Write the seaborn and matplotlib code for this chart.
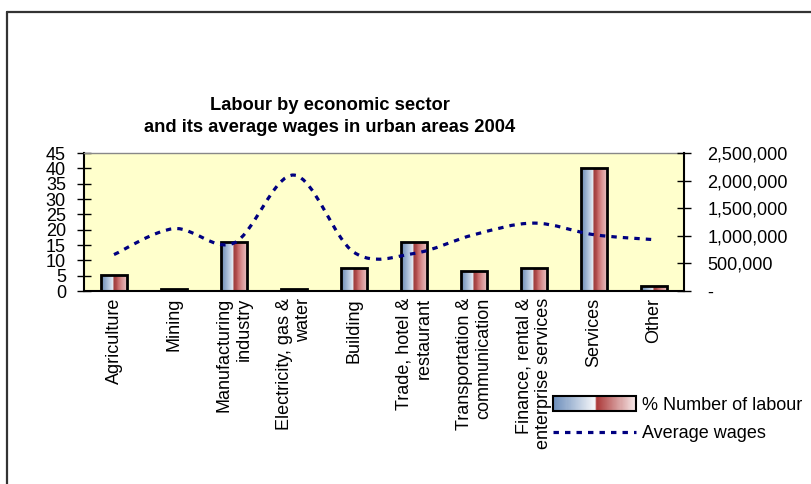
import numpy as np
import pandas as pd
import matplotlib
matplotlib.use("Agg")
import matplotlib.pyplot as plt
import seaborn as sns
from matplotlib.colors import LinearSegmentedColormap
from matplotlib.patches import Rectangle, Patch, PathPatch
from matplotlib.path import Path
from matplotlib.lines import Line2D
from matplotlib.legend_handler import HandlerBase

# ---- data ----
categories = ["Agriculture", "Mining", "Manufacturing\nindustry",
              "Electricity, gas &\nwater", "Building", "Trade, hotel &\nrestaurant",
              "Transportation &\ncommunication", "Finance, rental &\nenterprise services",
              "Services", "Other"]
labour_pct = [5.2, 0.8, 15.9, 0.8, 7.4, 16.0, 6.6, 7.4, 40.0, 1.5]
avg_wages = [660000, 1130000, 870000, 2100000, 700000, 680000, 1020000, 1230000, 1020000, 930000]
left_ticks = [0, 5, 10, 15, 20, 25, 30, 35, 40, 45]
right_ticks = [0, 500000, 1000000, 1500000, 2000000, 2500000]
right_labels = ["-", "500,000", "1,000,000", "1,500,000", "2,000,000", "2,500,000"]
title_lines = ["Labour by economic sector", "and its average wages in urban areas 2004"]
legend_labels = ["% Number of labour", "Average wages"]

sns.set_style("white")
plt.rcParams["font.family"] = ["Liberation Sans", "DejaVu Sans"]
plt.rcParams["text.color"] = "black"
plt.rcParams["xtick.color"] = "black"
plt.rcParams["ytick.color"] = "black"
plt.rcParams["xtick.labelcolor"] = "black"
plt.rcParams["ytick.labelcolor"] = "black"

W, H = 812, 484
fig = plt.figure(figsize=(W / 100, H / 100), dpi=100)
fig.patch.set_facecolor("white")

L, R, T, B = 84, 684, 153, 291
ax = fig.add_axes([L / W, (H - B) / H, (R - L) / W, (B - T) / H])
ax.set_facecolor("#FFFFCC")

df = pd.DataFrame({"cat": categories, "pct": labour_pct})
sns.barplot(data=df, x="cat", y="pct", ax=ax, width=0.42, color="white",
            edgecolor="black", linewidth=2, zorder=3)

bar_cmap = LinearSegmentedColormap.from_list("barg", [
    (0.00, "#6a89b2"), (0.18, "#94adcd"), (0.38, "#cbd8e9"), (0.47, "#eaf0f6"),
    (0.485, "#9c3c3c"), (0.60, "#b04c4c"), (0.66, "#c66868"), (0.80, "#d89292"),
    (1.00, "#eac0c0")])
grad = np.linspace(0, 1, 256).reshape(1, -1)
for p in list(ax.patches):
    x0, y0 = p.get_x(), p.get_y()
    w, h = p.get_width(), p.get_height()
    p.set_facecolor("none")
    im = ax.imshow(grad, extent=[x0, x0 + w, y0, y0 + h], aspect="auto",
                   cmap=bar_cmap, interpolation="bilinear", zorder=2.5, origin="lower")
    im.set_clip_path(p)

ax.set_xlim(-0.5, len(categories) - 0.5)
ax.set_ylim(0, 45)
ax.set_aspect("auto")
ax.set_yticks(left_ticks)
ax.set_yticklabels([str(v) for v in left_ticks], fontsize=13)
ax.set_xticks(range(len(categories)))
ax.set_xticklabels(categories, rotation=90, fontsize=13, va="top", ha="center")
for t in ax.get_xticklabels():
    t.set_multialignment("right")
ax.set_xticks(np.arange(-0.5, len(categories)), minor=True)
ax.tick_params(axis="x", which="major", length=0, pad=5)
ax.tick_params(axis="x", which="minor", direction="inout", length=10, width=1, color="black")
ax.tick_params(axis="y", direction="inout", length=10, width=1, color="black", pad=8, left=True)
ax.set_xlabel("")
ax.set_ylabel("")
for s in ["left", "bottom"]:
    ax.spines[s].set_color("black")
    ax.spines[s].set_linewidth(1.5)
ax.spines["top"].set_color("#888888")
ax.spines["top"].set_linewidth(1)
ax.spines["right"].set_visible(False)

# ---- secondary axis with smoothed line ----
ax2 = ax.twinx()
ax2.set_ylim(0, 2500000)
ax2.set_yticks(right_ticks)
ax2.set_yticklabels(right_labels, fontsize=13)
ax2.tick_params(axis="y", direction="inout", length=10, width=1, color="black", pad=12, right=True)
ax2.spines["right"].set_color("black")
ax2.spines["right"].set_linewidth(1.5)
for s in ["left", "top", "bottom"]:
    ax2.spines[s].set_visible(False)
ax2.grid(False)
ax.grid(False)

xs = np.arange(len(avg_wages), dtype=float)
ys = np.array(avg_wages, dtype=float)
pts = np.column_stack([xs, ys])
verts = [pts[0]]
codes = [Path.MOVETO]
n = len(pts)
for i in range(n - 1):
    p_prev = pts[i - 1] if i > 0 else pts[i]
    p_next2 = pts[i + 2] if i + 2 < n else pts[i + 1]
    c1 = pts[i] + (pts[i + 1] - p_prev) / 6.0
    c2 = pts[i + 1] - (p_next2 - pts[i]) / 6.0
    verts += [c1, c2, pts[i + 1]]
    codes += [Path.CURVE4] * 3
dash = (0, (1.7, 1.9))
pp = PathPatch(Path(verts, codes), fill=False, edgecolor="#000080",
               linewidth=2.3, linestyle=dash, capstyle="butt", zorder=4)
ax2.add_patch(pp)
ax2.set_xlim(-0.5, len(categories) - 0.5)

# ---- title ----
fig.text(330 / W, 1 - 105 / H, title_lines[0], ha="center", va="center",
         fontsize=13.2, fontweight="bold", color="black")
fig.text(330 / W, 1 - 128 / H, title_lines[1], ha="center", va="center",
         fontsize=13.2, fontweight="bold", color="black")

# ---- legend ----
legend_cmap = LinearSegmentedColormap.from_list("legg", [
    (0.0, "#6a8cba"), (0.5, "#f4f6f9"), (0.52, "#ab3838"), (0.97, "#f3e0e0"), (1.0, "#f3e0e0")])


class GradPatch(Patch):
    pass


class GradientHandler(HandlerBase):
    def create_artists(self, legend, orig_handle, xdescent, ydescent, width, height, fontsize, trans):
        nst = 80
        hh = height * 1.2
        y0 = -ydescent - (hh - height) / 2
        arts = []
        for i in range(nst):
            r = Rectangle((-xdescent + width * i / nst, y0), width / nst * 1.05, hh,
                          facecolor=legend_cmap((i + 0.5) / nst), edgecolor="none", transform=trans)
            arts.append(r)
        arts.append(Rectangle((-xdescent, y0), width, hh, facecolor="none",
                              edgecolor="black", linewidth=1.5, transform=trans))
        return arts


h1 = GradPatch()
h2 = Line2D([], [], color="#000080", linewidth=2.3, linestyle=dash, dash_capstyle="butt")
fig.legend([h1, h2], legend_labels, handler_map={GradPatch: GradientHandler()},
           loc="upper left", bbox_to_anchor=(553 / W, 1 - 397 / H), frameon=False,
           fontsize=13, handlelength=4.6, handletextpad=0.33, borderpad=0, borderaxespad=0,
           labelspacing=0.6, labelcolor="black")

# ---- outer border ----
fig.add_artist(Line2D([7 / W, 1.0], [1 - 12 / H, 1 - 12 / H], transform=fig.transFigure,
                      color="#333333", linewidth=1.6))
fig.add_artist(Line2D([7 / W, 7 / W], [0.0, 1 - 12 / H], transform=fig.transFigure,
                      color="#333333", linewidth=1.6))

fig.savefig("out.png", dpi=100)
